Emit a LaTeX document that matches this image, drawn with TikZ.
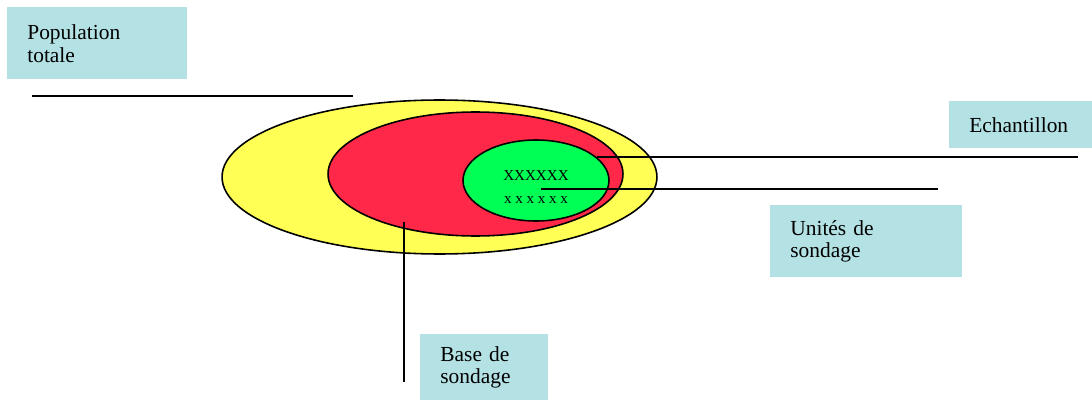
\documentclass[tikz,border=0pt]{standalone}
\usepackage{fontspec}
\setmainfont{Liberation Serif}
\usepackage{tikz}
\usetikzlibrary{shapes.geometric}
\definecolor{boxcyan}{RGB}{180,225,228}
\definecolor{popyellow}{RGB}{255,255,85}
\definecolor{basered}{RGB}{255,40,72}
\definecolor{echgreen}{RGB}{0,255,85}

\begin{document}
\begin{tikzpicture}[x=0.02cm,y=-0.02cm,
    label/.style={rectangle,fill=boxcyan,anchor=north west,inner xsep=0.4cm,inner ysep=0pt,
        align=left,font=\fontsize{12.2}{13}\selectfont},
    zone/.style={ellipse,draw,line width=0.9pt,inner sep=0pt},
    trait/.style={line width=1.2pt}]
    \useasboundingbox (0,0) rectangle (1092,402);
        % ellipses
        \node at (439.5,177) [zone,fill=popyellow,minimum width=8.7cm,minimum height=3.08cm] (pop) {};
        \node at (475.5,174) [zone,fill=basered,minimum width=5.9cm,minimum height=2.48cm] (base) {};
        \node at (536,180.5) [zone,fill=echgreen,minimum width=2.92cm,minimum height=1.62cm] (ech) {};
        \node at (536,187) [align=center,inner sep=0pt,font=\fontsize{8.6}{13}\selectfont] (units)
            {XXXXXX\\x\hspace{2.1pt}x\hspace{2.1pt}x\hspace{2.1pt}x\hspace{2.1pt}x\hspace{2.1pt}x};
        % labels
        \node at (7,7) [label,text width=2.8cm,minimum height=1.44cm] (lpop) {Population\\totale};
        \node at (949,101) [label,text width=2.06cm,minimum height=0.94cm] (lech) {Echantillon};
        \node at (770,205) [label,text width=3.04cm,minimum height=1.44cm] (lunit) {Unités de\\sondage};
        \node at (420,334) [label,text width=1.76cm,minimum height=1.32cm] (lbase) {Base de\\sondage};
        % lines
        \coordinate (p1) at (32,96);
        \coordinate (p2) at (353,96);
        \coordinate (e1) at (597,157);
        \coordinate (e2) at (1078,157);
        \coordinate (u1) at (541,189);
        \coordinate (u2) at (938,189);
        \coordinate (b1) at (404,222);
        \coordinate (b2) at (404,382);
        \draw[trait] (p1) -- (p2) (e1) -- (e2) (u1) -- (u2) (b1) -- (b2);
    \end{tikzpicture}
\end{document}
